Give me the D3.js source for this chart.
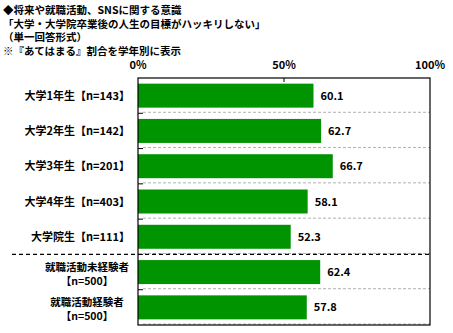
<!DOCTYPE html>
<html><head><meta charset="utf-8">
<script src="https://cdn.jsdelivr.net/npm/d3@7"></script>
<style>body{margin:0;background:#fff}svg{display:block}text{font-family:"Noto Sans CJK JP","Noto Sans",sans-serif;font-weight:bold;fill:#000}</style>
</head><body>
<script>
const titleLines = ["◆将来や就職活動、SNSに関する意識","「大学・大学院卒業後の人生の目標がハッキリしない」","（単一回答形式）","※『あてはまる』割合を学年別に表示"];
const categories = [["大学1年生【n=143】"],["大学2年生【n=142】"],["大学3年生【n=201】"],["大学4年生【n=403】"],["大学院生【n=111】"],["就職活動未経験者","【n=500】"],["就職活動経験者","【n=500】"]];
const values = [60.1,62.7,66.7,58.1,52.3,62.4,57.8];
const tickValues = [0,50,100];
const tickLabels = ["0%","50%","100%"];

const W=453,H=333, L=138, R=430, T=78, B=325;
const svg=d3.select("body").append("svg").attr("width",W).attr("height",H);
const x=d3.scaleLinear().domain([0,100]).range([L,R]);
const y=d3.scaleBand().domain(d3.range(categories.length)).range([T,B]).paddingInner(0.32).paddingOuter(0.16);
const step=y.step();

svg.selectAll("text.title").data(titleLines).join("text").attr("class","title")
  .attr("x",3).attr("y",(d,i)=>14+i*13.5).attr("font-size",10.5).text(d=>d);

svg.selectAll("text.tick").data(tickValues).join("text").attr("class","tick")
  .attr("x",d=>x(d)).attr("y",69).attr("text-anchor","middle").attr("font-size",11)
  .text((d,i)=>tickLabels[i]);

// gray separators
const bounds=d3.range(1,categories.length+1);
svg.selectAll("line.sep").data(bounds).join("line").attr("class","sep")
  .attr("x1",L+5).attr("x2",R).attr("y1",d=>T+d*step-1).attr("y2",d=>T+d*step-1)
  .attr("stroke","#b0b0b0").attr("stroke-width",1).attr("stroke-dasharray","3,2");
// left ticks
svg.selectAll("line.lt").data(d3.range(1,categories.length)).join("line").attr("class","lt")
  .attr("x1",L).attr("x2",L+5).attr("y1",d=>T+d*step).attr("y2",d=>T+d*step)
  .attr("stroke","#000").attr("stroke-width",1);
// top tick at 50
svg.append("line").attr("x1",x(50)).attr("x2",x(50)).attr("y1",T).attr("y2",T+4).attr("stroke","#000");

svg.selectAll("rect.bar").data(values).join("rect").attr("class","bar")
  .attr("x",x(0)).attr("y",(d,i)=>y(i)).attr("width",d=>x(d)-x(0)).attr("height",y.bandwidth())
  .attr("fill","#009400");

svg.selectAll("text.val").data(values).join("text").attr("class","val")
  .attr("x",d=>x(d)+7).attr("y",(d,i)=>y(i)+y.bandwidth()/2+4).attr("font-size",11)
  .text(d=>d.toFixed(1));

// black dashed divider
svg.append("line").attr("x1",12).attr("x2",R).attr("y1",T+5*step).attr("y2",T+5*step)
  .attr("stroke","#000").attr("stroke-width",1.2).attr("stroke-dasharray","4,3");

// frame
svg.append("rect").attr("x",L).attr("y",T).attr("width",R-L).attr("height",B-T)
  .attr("fill","none").attr("stroke","#000").attr("stroke-width",1.2);

categories.forEach((c,i)=>{
  const cy=y(i)+y.bandwidth()/2;
  if(c.length===1){
    svg.append("text").attr("x",130).attr("y",cy+4).attr("text-anchor","end").attr("font-size",11).text(c[0]);
  } else {
    c.forEach((t,j)=>svg.append("text").attr("x",87).attr("y",cy-1.5+j*14).attr("text-anchor","middle").attr("font-size",10.5).text(t));
  }
});
</script>
</body></html>
